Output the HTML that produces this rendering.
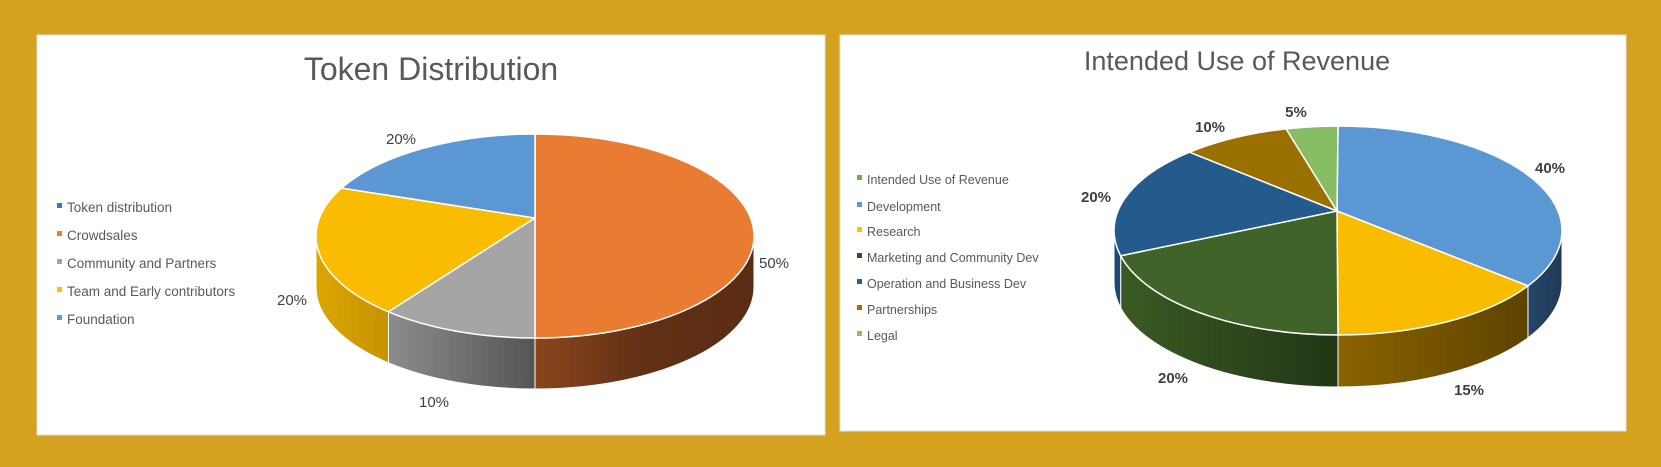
<!DOCTYPE html>
<html><head><meta charset="utf-8"><style>
body{margin:0;background:#d4a21f;}
svg{display:block}
text{font-family:"Liberation Sans",sans-serif;}
</style></head><body>
<svg id="s" width="1661" height="467" xmlns="http://www.w3.org/2000/svg">
<defs>
<linearGradient id="gO" x1="0" x2="1"><stop offset="0" stop-color="#8a461d"/><stop offset="0.5" stop-color="#613015"/><stop offset="1" stop-color="#5a2c12"/></linearGradient>
<linearGradient id="gG" x1="0" x2="1"><stop offset="0" stop-color="#8c8c8c"/><stop offset="1" stop-color="#555"/></linearGradient>
<linearGradient id="gY" x1="0" x2="1"><stop offset="0" stop-color="#dba600"/><stop offset="1" stop-color="#c79300"/></linearGradient>
<linearGradient id="gGr" x1="0" x2="1"><stop offset="0" stop-color="#3a5a22"/><stop offset="1" stop-color="#213717"/></linearGradient>
<linearGradient id="gY2" x1="0" x2="1"><stop offset="0" stop-color="#8a6300"/><stop offset="1" stop-color="#5e4300"/></linearGradient>
<linearGradient id="gB" x1="0" x2="1"><stop offset="0" stop-color="#27456a"/><stop offset="1" stop-color="#1e3a55"/></linearGradient>
</defs>
<rect x="37" y="35" width="788" height="400" fill="#fff" stroke="#e0e0e0"/>
<rect x="840" y="35" width="786" height="396" fill="#fff" stroke="#e0e0e0"/>
<text x="431" y="80" font-size="32" fill="#595959" text-anchor="middle">Token Distribution</text>
<text x="1237" y="70" font-size="27" fill="#595959" text-anchor="middle">Intended Use of Revenue</text>
<g font-size="13.5" fill="#595959">
<rect x="57" y="203" width="5" height="5" fill="#4472c4"/><text x="67" y="212">Token distribution</text>
<rect x="57" y="231" width="5" height="5" fill="#ed7d31"/><text x="67" y="240">Crowdsales</text>
<rect x="57" y="259" width="5" height="5" fill="#a5a5a5"/><text x="67" y="268">Community and Partners</text>
<rect x="57" y="287" width="5" height="5" fill="#ffc000"/><text x="67" y="296">Team and Early contributors</text>
<rect x="57" y="315" width="5" height="5" fill="#5b9bd5"/><text x="67" y="324">Foundation</text>
</g>
<g font-size="12.5" fill="#595959">
<rect x="857" y="175" width="5" height="5" fill="#70ad47"/><text x="867" y="184">Intended Use of Revenue</text>
<rect x="857" y="202" width="5" height="5" fill="#5b9bd5"/><text x="867" y="211">Development</text>
<rect x="857" y="227" width="5" height="5" fill="#ffc000"/><text x="867" y="236">Research</text>
<rect x="857" y="253" width="5" height="5" fill="#375623"/><text x="867" y="262">Marketing and Community Dev</text>
<rect x="857" y="279" width="5" height="5" fill="#255e91"/><text x="867" y="288">Operation and Business Dev</text>
<rect x="857" y="305" width="5" height="5" fill="#9e7000"/><text x="867" y="314">Partnerships</text>
<rect x="857" y="331" width="5" height="5" fill="#8cc168"/><text x="867" y="340">Legal</text>
</g>
<g id="p1"></g><g id="p2"></g>
<g font-size="15" fill="#404040">
<text x="401" y="144" text-anchor="middle">20%</text>
<text x="774" y="268" text-anchor="middle">50%</text>
<text x="292" y="305" text-anchor="middle">20%</text>
<text x="434" y="407" text-anchor="middle">10%</text>
</g>
<g font-size="15" fill="#404040" font-weight="bold">
<text x="1296" y="117" text-anchor="middle">5%</text>
<text x="1210" y="132" text-anchor="middle">10%</text>
<text x="1550" y="173" text-anchor="middle">40%</text>
<text x="1096" y="202" text-anchor="middle">20%</text>
<text x="1173" y="383" text-anchor="middle">20%</text>
<text x="1469" y="395" text-anchor="middle">15%</text>
</g>
</svg>
<script>
function pie(gid,cx,cy,rx,ry,vx,vy,d,sl){
 var g=document.getElementById(gid),h='';
 function P(t,dy){var r=t*Math.PI/180;return [(cx+rx*Math.cos(r)).toFixed(2),(cy+ry*Math.sin(r)+(dy||0)).toFixed(2)];}
 sl.forEach(function(s){
  var a=Math.max(s[0],0),b=Math.min(s[1],180);
  if(b>a){var p1=P(a),p2=P(b),q2=P(b,d),q1=P(a,d);
   h+='<path d="M'+p1+' A'+rx+' '+ry+' 0 0 1 '+p2+' L'+q2+' A'+rx+' '+ry+' 0 0 0 '+q1+' Z" fill="'+s[3]+'" stroke="#fff" stroke-width="1"/>';}
 });
 sl.forEach(function(s){
  var p1=P(s[0]),p2=P(s[1]),lg=(s[1]-s[0])>180?1:0;
  h+='<path d="M'+vx+','+vy+' L'+p1+' A'+rx+' '+ry+' 0 '+lg+' 1 '+p2+' Z" fill="'+s[2]+'" stroke="#fff" stroke-width="1.5" stroke-linejoin="round"/>';
 });
 g.innerHTML=h;
}
pie('p1',535,236,219,102,535,218,51,[
 [-90,90,'#e97c32','url(#gO)'],
 [90,132,'#a5a5a5','url(#gG)'],
 [132,208,'#f9bc00','url(#gY)'],
 [208,270,'#5b98d3','#3d6d9a']]);
pie('p2',1338,230.5,224,104.5,1337,211,52,[
 [-90,32,'#5b98d3','url(#gB)'],
 [32,90,'#f9bc00','url(#gY2)'],
 [90,166,'#40632a','url(#gGr)'],
 [166,228.5,'#245a8c','#1d4a73'],
 [228.5,256.6,'#9a7100','#6b4f00'],
 [256.6,270,'#87bd63','#5a8a40']]);
</script>
</body></html>
